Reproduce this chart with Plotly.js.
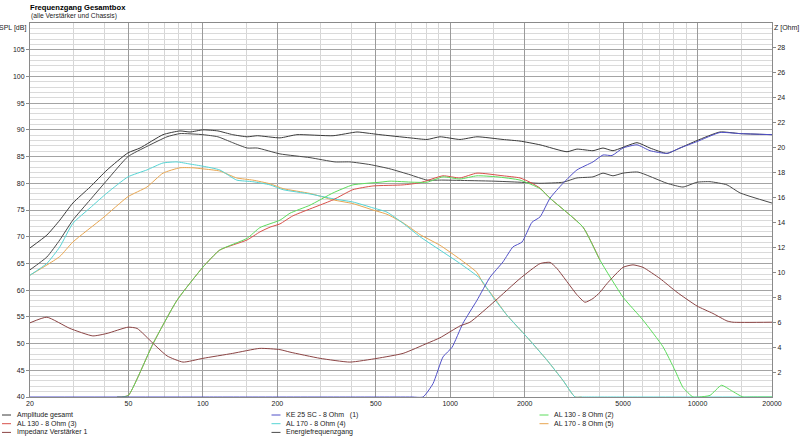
<!DOCTYPE html>
<html>
<head>
<meta charset="utf-8">
<script src="https://cdn.plot.ly/plotly-3.0.1.min.js"></script>
<style>
  html, body { margin: 0; padding: 0; background: #fff; }
  #chart { width: 800px; height: 437px; }
</style>
</head>
<body>
<div id="chart"></div>
<script>
// frequency in Hz, level in dB (SPL) or Ohm (impedance)
var ampFreq = [20, 23.4, 26.4, 29.8, 35, 41, 49.8, 55.7, 69, 80.8, 88.7, 100, 115, 132, 151, 166, 205, 240, 336, 420,
  461, 520, 688, 806, 909, 1095, 1283, 1635, 1915, 2307, 2966, 3254, 3778, 4147, 4551, 5691, 6423, 7525, 8492, 9947,
  12321, 14844, 20000];
var ampDb = [67.9, 70.3, 73.1, 76.3, 79.3, 82.5, 85.7, 86.6, 89.1, 89.8, 89.6, 90, 89.8, 89.1, 88.7, 88.9, 88.5, 89.1, 88.9, 89.6,
  89.4, 89.1, 88.5, 88.2, 88.7, 88.2, 88.7, 88.2, 87.9, 87.2, 85.9, 86.4, 86.1, 86.6, 86.1, 87.6, 86.6, 85.6, 86.6, 88,
  89.6, 89.3, 89.1];

var energyFreq = [20, 23.4, 26.4, 29.8, 35, 41, 49.8, 59.4, 71.6, 80.8, 100, 115, 132, 151, 166, 205, 271, 342, 393, 474,
  571, 688, 806, 935, 1202, 1500, 1915, 2307, 2858, 3254, 3778, 4147, 4551, 4995, 5744, 7525, 8732, 9947, 11226, 13153,
  14844, 20000];
var energyDb = [63.8, 66.2, 69.4, 73.1, 76.9, 80.6, 85, 86.9, 88.7, 89.3, 89.1, 88.7, 87.6, 86.6, 86.6, 85.5, 84.8, 84, 84, 83.5,
  82.7, 81.6, 80.6, 80.6, 80.5, 80.4, 80.2, 80, 80.2, 81, 81.2, 81.9, 81.4, 81.9, 82.1, 80, 79.3, 80.2, 80.3, 79.7,
  78.2, 76.3];

var ke25Freq = [20, 100, 500, 700, 776, 852, 935, 1017, 1126, 1283, 1448, 1635, 1794, 1951, 2141, 2307, 2532, 2858, 3254, 3778,
  4147, 4510, 4995, 5691, 6423, 7525, 8492, 9947, 12321, 14844, 20000];
var ke25Db = [40, 40, 40, 40, 40, 42.5, 47.5, 49.3, 53.8, 58.1, 62.4, 65.3, 68.1, 69, 72.7, 73.7, 77.2, 80, 82.5, 84,
  85.3, 85.2, 86.6, 87.2, 86.1, 85.6, 86.6, 87.8, 89.5, 89.3, 89.1];

var al130aFreq = [45, 47, 50, 62.9, 78.6, 100, 117, 151, 170, 205, 225, 271, 336, 404, 520, 571, 707, 806, 935, 1095, 1283,
  1546, 1915, 2307, 2532, 3442, 4033, 4995, 6017, 7249, 8107, 8732, 9585, 10200, 11226, 12500, 13700, 15266, 16500, 20000];
var al130aDb = [40, 40, 40.3, 50, 58.1, 64.3, 67.5, 69.7, 71.7, 73.1, 74.4, 75.9, 78.2, 79.7, 80.2, 80.4, 80.2, 80.2, 81.2, 80.8, 81.4,
  81.2, 80.6, 79, 77.2, 71.8, 65.6, 58.7, 54.4, 49.4, 45, 41.8, 40, 40, 40.3, 42.2, 41.2, 40, 40, 40];

var al130bFreq = [45, 47, 50, 62.9, 78.6, 100, 117, 151, 170, 187, 205, 231, 336, 404, 487, 645, 755, 935, 1095, 1283, 1635,
  1915, 2102, 2307, 2532, 3442, 4033];
var al130bDb = [40, 40, 40.3, 50, 58.1, 64.3, 67.5, 69.4, 70.9, 71.8, 72.4, 73.9, 76.9, 78.8, 79.5, 79.7, 80.1, 81.4, 81, 81.9, 81.4,
  81, 80.2, 79.1, 77.2, 71.8, 65.6];

var al170aFreq = [20, 23.4, 26.4, 29.8, 35, 41, 49.8, 59.4, 69, 78.6, 88.7, 100, 117, 137, 159, 187, 211, 271, 336, 404,
  487, 555, 645, 755, 909, 1095, 1319, 1489, 1697, 2044, 2462, 2858, 3196, 3400, 5000, 10000, 20000];
var al170aDb = [62.8, 65, 68.1, 72.5, 75.4, 78.2, 81.2, 82.5, 83.8, 84, 83.6, 83.2, 82.5, 80.6, 80.3, 79.7, 78.8, 78, 77.1, 76.5,
  75.4, 74.6, 72.5, 70, 67.5, 65, 62.2, 58.7, 55.3, 51.2, 46.9, 43.1, 40, 40, 40, 40, 40];

var al170bFreq = [20, 23.4, 26.4, 29.8, 39.4, 49.8, 59.4, 69, 80.8, 91.2, 100, 117, 137, 159, 187, 211, 271, 336, 404, 487,
  555, 645, 755, 909, 1095, 1283, 1357, 1489, 1697, 2044, 2462, 2858, 3196, 3400];
var al170bDb = [62.8, 64.7, 66.3, 69, 73.5, 77.5, 79.3, 81.9, 82.9, 82.9, 82.7, 82.3, 81, 80.6, 79.9, 79, 78.1, 76.9, 76.2, 75,
  74.2, 72.6, 70.4, 68.4, 65.8, 63.3, 61.3, 58.9, 55.3, 51.2, 46.9, 43.1, 40, 40];

var impFreq = [20, 23.4, 29, 35.9, 41, 49.8, 54.2, 62.9, 71.6, 83.1, 100, 132, 170, 205, 225, 298, 393, 506, 645, 806,
  909, 1095, 1202, 1517, 1915, 2307, 2532, 2703, 3254, 3507, 3778, 4033, 4305, 4995, 5483, 6017, 7050, 8259, 9947, 11544,
  13153, 13909, 20000];
var impOhm = [5.95, 6.4, 5.5, 4.9, 5.1, 5.6, 5.5, 4.3, 3.3, 2.8, 3.1, 3.5, 3.9, 3.8, 3.6, 3.1, 2.8, 3.1, 3.5, 4.3,
  4.75, 5.7, 6.0, 7.7, 9.5, 10.7, 10.8, 10.3, 8.2, 7.6, 7.9, 8.4, 9.1, 10.4, 10.6, 10.4, 9.5, 8.4, 7.3, 6.7,
  6.1, 6.0, 6.0];

var xTicks = [20, 50, 100, 200, 500, 1000, 2000, 5000, 10000, 20000];
var xMinor = [30, 40, 60, 70, 80, 90, 150, 300, 400, 600, 700, 800, 900, 1500, 3000, 4000, 6000, 7000, 8000, 9000, 15000];
var splTicks = [40, 45, 50, 55, 60, 65, 70, 75, 80, 85, 90, 95, 100, 105];
var ohmTicks = [2, 4, 6, 8, 10, 12, 14, 16, 18, 20, 22, 24, 26, 28];

var legendNames = ["Amplitude gesamt", "KE 25 SC - 8 Ohm\u00a0\u00a0\u00a0(1)", "AL 130 - 8 Ohm (2)",
  "AL 130 - 8 Ohm (3)", "AL 170 - 8 Ohm (4)", "AL 170 - 8 Ohm (5)",
  "Impedanz Verstärker 1", "Energiefrequenzgang"];
var legendColors = ["#3a3a3a", "#5050c8", "#5cdc5c", "#d8504a", "#55d4d4", "#e8a650", "#8b4444", "#4a4a4a"];

var FONT = "Liberation Sans, Arial, sans-serif";

function line(x, y, color, name, axis) {
  return {
    x: x, y: y, name: name, type: "scatter", mode: "lines",
    yaxis: axis || "y", showlegend: false,
    line: { color: color, width: 1, shape: "spline", smoothing: 0.5 }
  };
}

// drawing order: blacks first, tweeter on top
var data = [
  line(energyFreq, energyDb, legendColors[7], legendNames[7]),
  line(ampFreq, ampDb, legendColors[0], legendNames[0]),
  line(al170bFreq, al170bDb, legendColors[5], legendNames[5]),
  line(al170aFreq, al170aDb, legendColors[4], legendNames[4]),
  line(al130bFreq, al130bDb, legendColors[3], legendNames[3]),
  line(al130aFreq, al130aDb, legendColors[2], legendNames[2]),
  line(ke25Freq, ke25Db, legendColors[1], legendNames[1]),
  line(impFreq, impOhm, legendColors[6], legendNames[6], "y2")
];

// pixel -> paper helpers (plot area 30..772 x 23..397)
var L = 30, T = 23, W = 742, H = 374;
function px(x) { return (x - L) / W; }
function py(y) { return 1 - (y - T) / H; }

var annotations = [
  { text: "(alle Verstärker und Chassis)", xref: "paper", yref: "paper", x: px(29), y: py(16),
    xanchor: "left", yanchor: "middle", showarrow: false, font: { size: 6.7, family: FONT, color: "#222" } },
  { text: "SPL [dB]", xref: "paper", yref: "paper", x: px(28), y: py(28),
    xanchor: "right", yanchor: "middle", showarrow: false, font: { size: 7, family: FONT, color: "#222" } },
  { text: "Z [Ohm]", xref: "paper", yref: "paper", x: px(772), y: py(28),
    xanchor: "left", yanchor: "middle", showarrow: false, font: { size: 7, family: FONT, color: "#222" } }
];
var shapes = [];

// legend: 3 columns, 3 rows below the axis
var colX = [2, 271.5, 539.5];
var rowY = [415, 423.7, 432.4];
legendNames.forEach(function (name, i) {
  var cx = colX[i % 3], cy = rowY[Math.floor(i / 3)];
  shapes.push({ type: "line", xref: "paper", yref: "paper",
    x0: px(cx), x1: px(cx + 9), y0: py(cy), y1: py(cy),
    line: { color: legendColors[i], width: 1 } });
  annotations.push({ text: name, xref: "paper", yref: "paper", x: px(cx + 12.5), y: py(cy),
    xanchor: "left", yanchor: "middle", showarrow: false,
    font: { size: 7, family: FONT, color: "#222" } });
});

var layout = {
  width: 800,
  height: 437,
  margin: { l: L, r: 28, t: T, b: 40, pad: 0 },
  paper_bgcolor: "#ffffff",
  plot_bgcolor: "#ffffff",
  showlegend: false,
  font: { family: FONT, size: 7, color: "#222" },
  title: {
    text: "<b>Frequenzgang Gesamtbox</b>",
    font: { family: FONT, size: 7.6, color: "#000" },
    xref: "container", x: 30 / 800, xanchor: "left",
    yref: "container", y: 1 - 7 / 437, yanchor: "middle"
  },
  xaxis: {
    type: "log",
    range: [Math.log10(20), Math.log10(20000)],
    tickmode: "array",
    tickvals: xTicks,
    ticktext: xTicks.map(String),
    tickfont: { size: 7, family: FONT, color: "#222" },
    ticks: "",
    showgrid: true,
    gridcolor: "#9a9a9a",
    gridwidth: 1,
    minor: { tickmode: "array", tickvals: xMinor, showgrid: true, gridcolor: "#d6d6d6", ticks: "" },
    showline: true, mirror: true, linecolor: "#8a8a8a", linewidth: 1,
    zeroline: false
  },
  yaxis: {
    range: [40, 110],
    tickmode: "array",
    tickvals: splTicks,
    tickfont: { size: 7, family: FONT, color: "#222" },
    ticks: "outside", ticklen: 3, tickcolor: "#8a8a8a",
    showgrid: true,
    gridcolor: "#a4a4a4",
    minor: { tickmode: "linear", tick0: 40, dtick: 1, showgrid: true, gridcolor: "#dadada", ticks: "" },
    showline: true, mirror: true, linecolor: "#8a8a8a", linewidth: 1,
    zeroline: false
  },
  yaxis2: {
    overlaying: "y",
    side: "right",
    range: [0, 30],
    tickmode: "array",
    tickvals: ohmTicks,
    tickfont: { size: 7, family: FONT, color: "#222" },
    ticks: "outside", ticklen: 3, tickcolor: "#8a8a8a",
    showgrid: false,
    showline: true, linecolor: "#8a8a8a", linewidth: 1,
    zeroline: false
  },
  annotations: annotations,
  shapes: shapes
};

Plotly.newPlot("chart", data, layout, { displayModeBar: false, staticPlot: true });
</script>
</body>
</html>
